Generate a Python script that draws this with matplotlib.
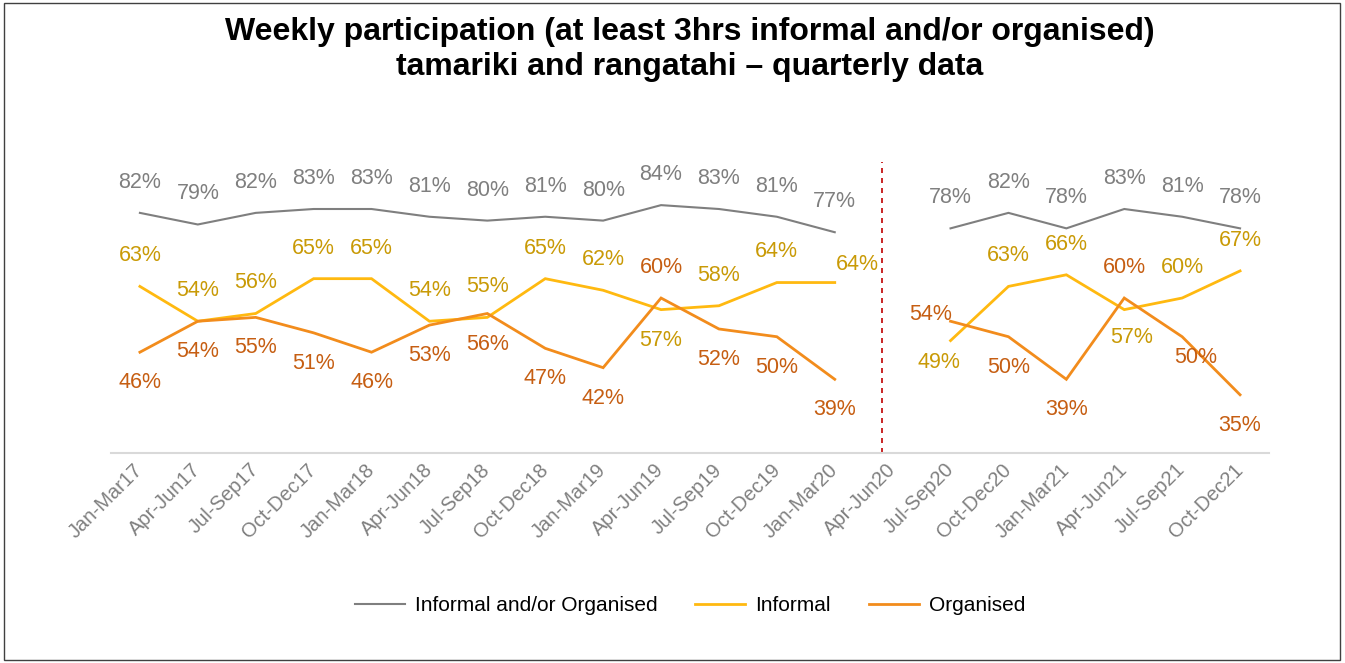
import numpy as np
import matplotlib
matplotlib.use('Agg')
from matplotlib import pyplot as plt
from matplotlib.patches import Rectangle

plt.rcParams['font.family'] = ['Liberation Sans', 'DejaVu Sans']

quarters = ['Jan-Mar17', 'Apr-Jun17', 'Jul-Sep17', 'Oct-Dec17', 'Jan-Mar18', 'Apr-Jun18',
            'Jul-Sep18', 'Oct-Dec18', 'Jan-Mar19', 'Apr-Jun19', 'Jul-Sep19', 'Oct-Dec19',
            'Jan-Mar20', 'Apr-Jun20', 'Jul-Sep20', 'Oct-Dec20', 'Jan-Mar21', 'Apr-Jun21',
            'Jul-Sep21', 'Oct-Dec21']
nan = np.nan
either = [82, 79, 82, 83, 83, 81, 80, 81, 80, 84, 83, 81, 77, nan, 78, 82, 78, 83, 81, 78]
informal = [63, 54, 56, 65, 65, 54, 55, 65, 62, 57, 58, 64, 64, nan, 49, 63, 66, 57, 60, 67]
organised = [46, 54, 55, 51, 46, 53, 56, 47, 42, 60, 52, 50, 39, nan, 54, 50, 39, 60, 50, 35]

# label placement (offset in points) per series
UP = (0, 22)
DN = (0, -22)
pos_either = [UP] * 20
pos_informal = [UP, UP, UP, UP, UP, UP, UP, UP, UP, DN, UP, UP, (16, 13), None,
                (-8, -16), UP, UP, (5, -20), UP, UP]
pos_organised = [DN, DN, DN, DN, DN, DN, DN, DN, DN, UP, DN, DN, DN, None,
                 (-14, 5), DN, DN, UP, (10, -15), DN]

fig = plt.figure(figsize=(13.45, 6.63), dpi=100)
ax = fig.add_axes([0.0825, 0.317, 0.861, 0.467])
x = np.arange(len(quarters))

series = [
    ('Informal and/or Organised', either, '#7f7f7f', '#7f7f7f', 1.5, pos_either),
    ('Informal', informal, '#ffb910', '#c99a06', 2.0, pos_informal),
    ('Organised', organised, '#f28c1c', '#c65e12', 2.0, pos_organised),
]

for name, vals, lc, tc, lw, pos in series:
    v = np.array(vals, dtype=float)
    ax.plot(x, v, color=lc, lw=lw, label=name, solid_joinstyle='miter')
    for i, val in enumerate(v):
        if np.isnan(val):
            continue
        dx, dy = pos[i]
        ax.annotate('%d%%' % val, (i, val), xytext=(dx, dy), textcoords='offset points',
                    ha='center', va='center', fontsize=15.5, color=tc)

ax.axvline(12.82, ymin=0, ymax=0.94, color='#c00000', lw=1.2, ls=(0, (3, 3)))

ax.set_xlim(-0.5, len(quarters) - 0.5)
ax.set_ylim(20, 100)
ax.set_xticks(x)
ax.set_xticklabels(quarters, rotation=45, ha='right', va='center', rotation_mode='anchor',
                   fontsize=14.5, color='#808080')
ax.tick_params(axis='x', length=0, pad=10)
ax.set_yticks([])
for s in ['top', 'right', 'left']:
    ax.spines[s].set_visible(False)
ax.spines['bottom'].set_color('#d9d9d9')
ax.spines['bottom'].set_linewidth(1.5)

fig.text(0.513, 0.925, 'Weekly participation (at least 3hrs informal and/or organised)\n'
         'tamariki and rangatahi \u2013 quarterly data',
         ha='center', va='center', fontsize=23, fontweight='bold', linespacing=1.22)

fig.legend(loc='center', bbox_to_anchor=(0.513, 0.087), ncol=3, frameon=False,
           fontsize=15, handlelength=2.4, handletextpad=0.5, columnspacing=1.8)

fig.patches.append(Rectangle((0.003, 0.004), 0.993, 0.992, transform=fig.transFigure,
                             fill=False, edgecolor='#404040', lw=1))

fig.savefig('out.png', dpi=100)
